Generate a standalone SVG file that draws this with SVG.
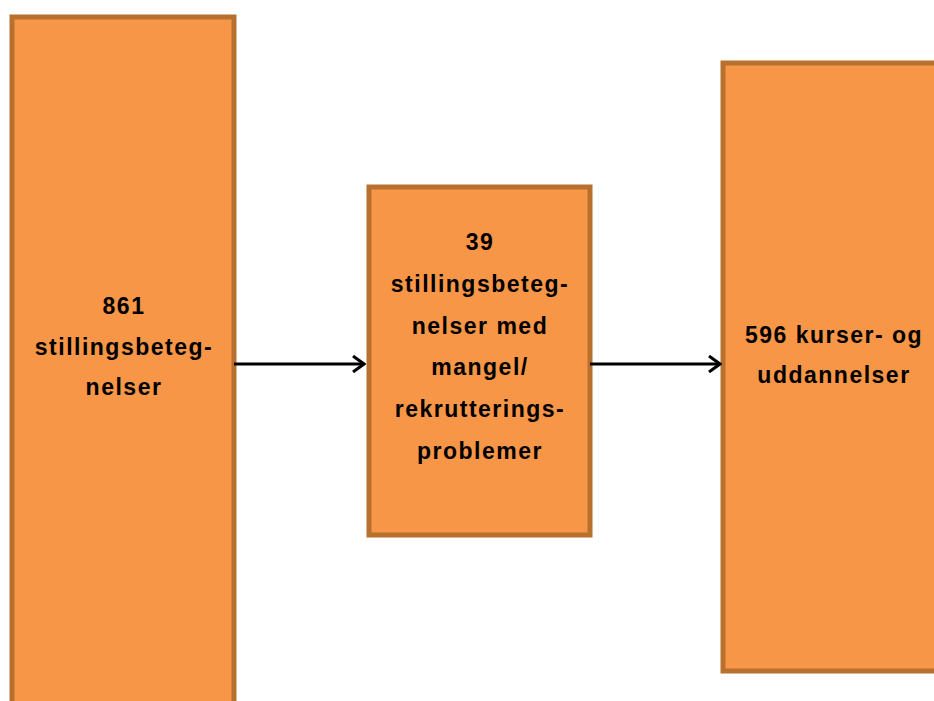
<svg xmlns="http://www.w3.org/2000/svg" width="934" height="701" viewBox="0 0 934 701">
<defs>
<style>
.box{fill:#F79646;stroke:#B8702F;stroke-width:5}
.t{font-family:"Liberation Sans",Arial,sans-serif;font-weight:bold;font-size:23px;letter-spacing:1.5px;fill:#000;text-anchor:middle}
.c{stroke:#000;stroke-width:3;fill:none}
</style>
<marker id="arr" markerWidth="14" markerHeight="18" refX="12" refY="9" orient="auto" markerUnits="userSpaceOnUse">
<path d="M1,1 L12,9 L1,17" fill="none" stroke="#000" stroke-width="3"/>
</marker>
</defs>
<rect width="934" height="701" fill="#fff"/>
<g id="node1">
<rect class="box" x="12" y="17" width="222" height="700"/>
<text class="t" x="124" y="314">861</text>
<text class="t" x="124" y="355">stillingsbeteg-</text>
<text class="t" x="124" y="395">nelser</text>
</g>
<g id="node2">
<rect class="box" x="369" y="187" width="221" height="348"/>
<text class="t" x="480" y="250">39</text>
<text class="t" x="480" y="292">stillingsbeteg-</text>
<text class="t" x="480" y="334">nelser med</text>
<text class="t" x="480" y="375">mangel/</text>
<text class="t" x="480" y="417">rekrutterings-</text>
<text class="t" x="480" y="459">problemer</text>
</g>
<g id="node3">
<rect class="box" x="723" y="63" width="240" height="608"/>
<text class="t" x="834" y="343">596 kurser- og</text>
<text class="t" x="834" y="383">uddannelser</text>
</g>
<g id="connectors">
<line class="c" x1="234" y1="364" x2="364" y2="364" marker-end="url(#arr)"/>
<line class="c" x1="590" y1="364" x2="720" y2="364" marker-end="url(#arr)"/>
</g>
</svg>
